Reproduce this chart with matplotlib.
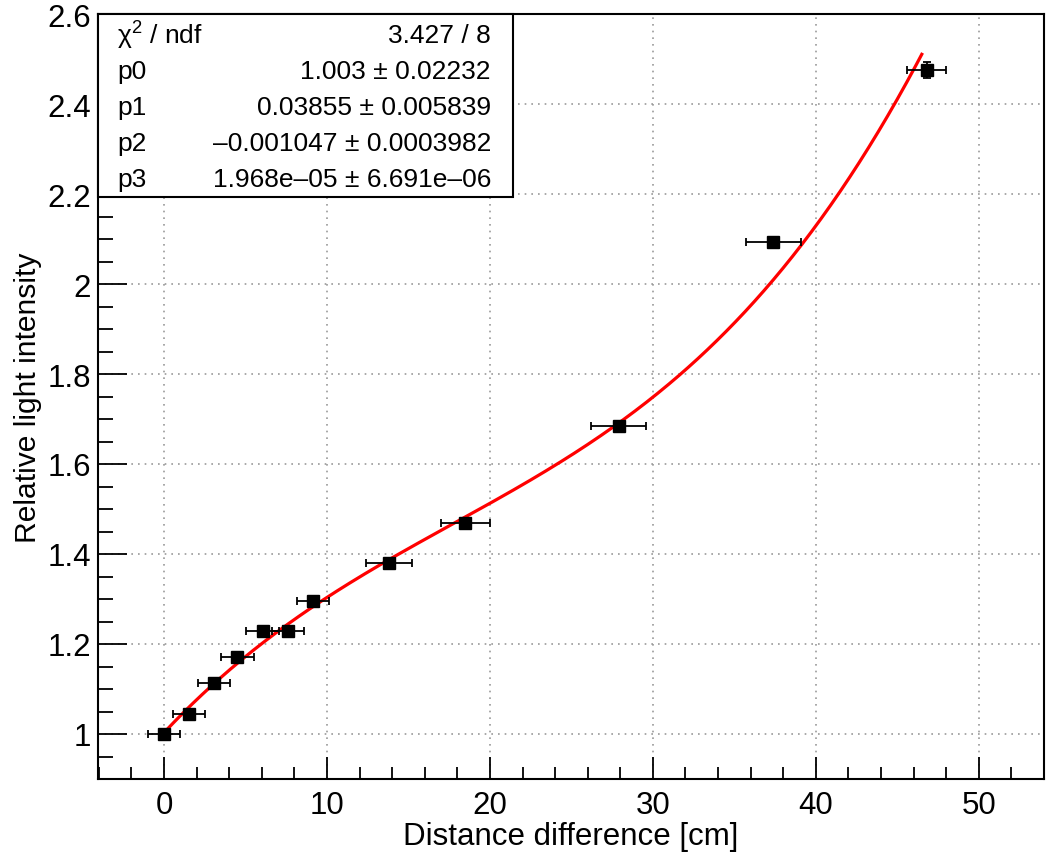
import matplotlib
matplotlib.use("Agg")
import matplotlib.pyplot as plt
import numpy as np
from matplotlib.ticker import MultipleLocator, FixedLocator
from matplotlib.patches import Rectangle

plt.rcParams['font.family'] = ['Liberation Sans', 'DejaVu Sans']
plt.rcParams['mathtext.fontset'] = 'custom'
plt.rcParams['mathtext.rm'] = 'Liberation Sans'
plt.rcParams['mathtext.it'] = 'Liberation Sans'

# measured points
distance = [0.0, 1.53, 3.06, 4.5, 6.05, 7.6, 9.15, 13.8, 18.5, 27.9, 37.4, 46.8]
intensity = [1.0, 1.044, 1.113, 1.171, 1.228, 1.228, 1.295, 1.381, 1.470, 1.684, 2.094, 2.476]
distance_err = [1.0, 1.0, 1.0, 1.0, 1.0, 1.0, 1.0, 1.4, 1.5, 1.7, 1.7, 1.2]
intensity_err = [0.004, 0.004, 0.004, 0.004, 0.004, 0.004, 0.004, 0.004, 0.005, 0.006, 0.008, 0.018]

# pol3 fit result
params = [1.003, 0.03855, -0.001047, 1.968e-05]
fit_range = (0.0, 46.5)

stats_labels = ['χ$^2$ / ndf', 'p0', 'p1', 'p2', 'p3']
stats_values = ['3.427 / 8', '1.003 ± 0.02232', '0.03855 ± 0.005839',
                '–0.001047 ± 0.0003982', '1.968e–05 ± 6.691e–06']

W, H = 1049, 853
fig = plt.figure(figsize=(W / 100, H / 100), dpi=100)
left, right, bottom, top = 98, 1044, 780, 15
ax = fig.add_axes([left / W, 1 - bottom / H, (right - left) / W, (bottom - top) / H])

# fit curve
xf = np.linspace(fit_range[0], fit_range[1], 400)
yf = params[0] + params[1] * xf + params[2] * xf ** 2 + params[3] * xf ** 3
ax.plot(xf, yf, color='#ff0000', lw=2.3, zorder=3)

ax.errorbar(distance, intensity, xerr=distance_err, yerr=intensity_err,
            fmt='s', color='black', ms=9, elinewidth=1.3, capsize=3,
            capthick=1.3, zorder=4)

ax.set_xlim(-4.05, 54.0)
ax.set_ylim(0.9, 2.6)

ax.xaxis.set_major_locator(MultipleLocator(10))
ax.xaxis.set_minor_locator(MultipleLocator(2))
ax.yaxis.set_major_locator(FixedLocator(np.arange(1.0, 2.61, 0.2)))
ax.yaxis.set_minor_locator(MultipleLocator(0.05))
ax.yaxis.set_major_formatter(plt.FuncFormatter(lambda v, p: ('%g' % round(v, 2))))

fs = 22.5
ax.tick_params(axis='x', which='major', direction='in', length=16, width=1.3,
               labelsize=fs, pad=8, top=False)
ax.tick_params(axis='x', which='minor', direction='in', length=8.6, width=1.3, top=False)
ax.tick_params(axis='y', which='major', direction='in', length=21, width=1.3,
               labelsize=fs, pad=5, right=False)
ax.tick_params(axis='y', which='minor', direction='in', length=10.8, width=1.3, right=False)

for s in ax.spines.values():
    s.set_linewidth(1.5)

ax.grid(True, which='major', color='#999999', linestyle=(0, (1, 3)), linewidth=1.2)
ax.set_axisbelow(True)

ax.set_xlabel('Distance difference [cm]', fontsize=fs, labelpad=1)
ax.set_ylabel('Relative light intensity', fontsize=21.6, labelpad=4)

# stats box
def to_ax(px, py):
    return (px - left) / (right - left), (bottom - py) / (bottom - top)

bx0, by0 = to_ax(98, 198)
bx1, by1 = to_ax(513, 15)
ax.add_patch(Rectangle((bx0, by0), bx1 - bx0, by1 - by0, transform=ax.transAxes,
                       facecolor='white', edgecolor='black', lw=1.5, zorder=6,
                       clip_on=False))
rows_y = [36, 72, 108, 144, 180]
for lab, val, ry in zip(stats_labels, stats_values, rows_y):
    tx, ty = to_ax(117, ry)
    ax.text(tx, ty, lab, transform=ax.transAxes, fontsize=19, ha='left',
            va='center', zorder=7)
    tx, ty = to_ax(491, ry)
    ax.text(tx, ty, val, transform=ax.transAxes, fontsize=19, ha='right',
            va='center', zorder=7)

fig.savefig('out.png', dpi=100)
